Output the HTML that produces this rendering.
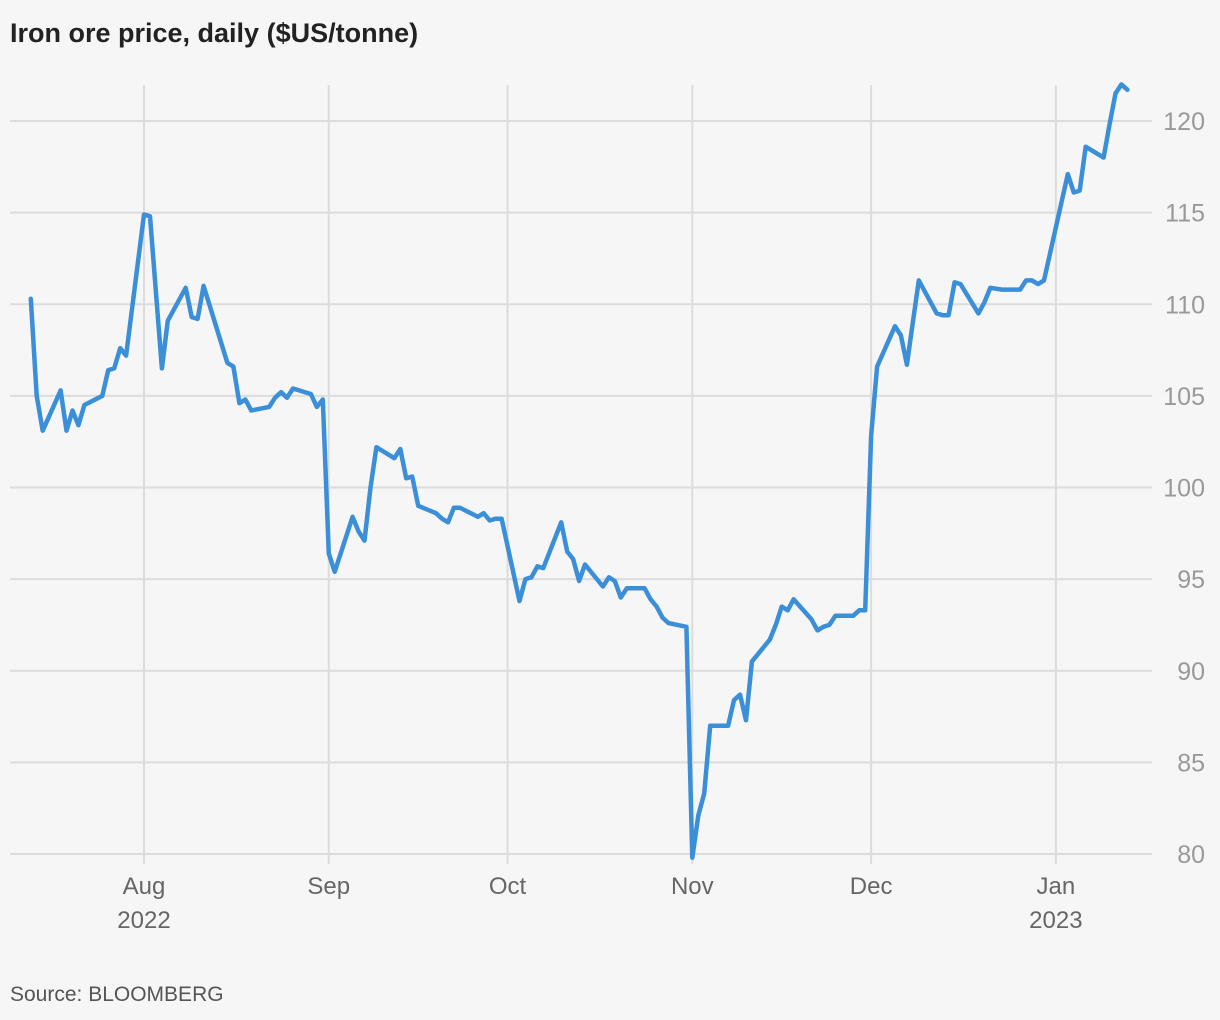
<!DOCTYPE html>
<html><head><meta charset="utf-8">
<style>
html,body{margin:0;padding:0;background:#f6f6f6;}
svg{display:block;font-family:"Liberation Sans",sans-serif;}
</style></head>
<body>
<svg width="1220" height="1020" viewBox="0 0 1220 1020">
<rect x="0" y="0" width="1220" height="1020" fill="#f6f6f6"/>
<text x="10" y="42" font-size="27" font-weight="bold" fill="#222">Iron ore price, daily ($US/tonne)</text>
<g id="grid"></g>
<g id="series"></g>
<text x="10" y="1001" font-size="21" fill="#555">Source: BLOOMBERG</text>
</svg>
<script>
// days since 1 Aug 2022
const days=[-19,-18,-17,-14,-13,-12,-11,-10,-7,-6,-5,-4,-3,0,1,3,4,7,8,9,10,14,15,16,17,18,21,22,23,24,25,28,29,30,31,32,35,36,37,38,39,42,43,44,45,46,49,50,51,52,53,56,57,58,59,60,63,64,65,66,67,70,71,72,73,74,77,78,79,80,81,84,85,86,87,88,91,92,93,94,95,98,99,100,101,102,105,106,107,108,109,112,113,114,115,116,119,120,121,122,123,126,127,128,129,130,133,134,135,136,137,140,141,142,144,147,148,149,150,151,155,156,157,158,161,162,163,164,165];
const prices=[110.3,105.0,103.1,105.3,103.1,104.2,103.4,104.5,105.0,106.4,106.5,107.6,107.2,114.9,114.8,106.5,109.1,110.9,109.3,109.2,111.0,106.8,106.6,104.6,104.8,104.2,104.4,104.9,105.2,104.9,105.4,105.1,104.4,104.8,96.4,95.4,98.4,97.6,97.1,100.0,102.2,101.6,102.1,100.5,100.6,99.0,98.6,98.3,98.1,98.9,98.9,98.4,98.6,98.2,98.3,98.3,93.8,95.0,95.1,95.7,95.6,98.1,96.5,96.1,94.9,95.8,94.6,95.1,94.9,94.0,94.5,94.5,93.9,93.5,92.9,92.6,92.4,79.8,82.1,83.3,87.0,87.0,88.4,88.7,87.3,90.5,91.7,92.5,93.5,93.3,93.9,92.8,92.2,92.4,92.5,93.0,93.0,93.3,93.3,102.8,106.6,108.8,108.3,106.7,109.0,111.3,109.5,109.4,109.4,111.2,111.1,109.5,110.1,110.9,110.8,110.8,111.3,111.3,111.1,111.3,117.1,116.1,116.2,118.6,118.0,119.8,121.5,122.0,121.7];
const yTicks=[80,85,90,95,100,105,110,115,120];
const monthDays=[0,31,61,92,122,153];
const monthLabels=["Aug","Sep","Oct","Nov","Dec","Jan"];
const yearLabels=["2022","","","","","2023"];

const NS="http://www.w3.org/2000/svg";
const xs=d=>144+d*5.96;
const ys=v=>854-(v-80)*18.325;
const grid=document.getElementById('grid');
const series=document.getElementById('series');
function mk(tag,attrs,parent){const e=document.createElementNS(NS,tag);for(const k in attrs)e.setAttribute(k,attrs[k]);parent.appendChild(e);return e;}
yTicks.forEach(v=>{
  const l=mk('line',{x1:10,x2:1152,y1:ys(v),y2:ys(v),stroke:'#dcdcdc','stroke-width':2},grid);
  
  
  const t=mk('text',{x:1205,y:ys(v)+9,'font-size':25,fill:'#999','text-anchor':'end'},grid);
  t.textContent=v;
  
  
});
monthDays.forEach((d,i)=>{
  const x=xs(d);
  const l=mk('line',{x1:x,x2:x,y1:85,y2:864,stroke:'#dcdcdc','stroke-width':2},grid);
  
  
  const t=mk('text',{x:x,y:894,'font-size':24,fill:'#666','text-anchor':'middle'},grid);
  t.textContent=monthLabels[i];
  
  
  if(yearLabels[i]){
    const y=mk('text',{x:x,y:928,'font-size':24,fill:'#666','text-anchor':'middle'},grid);
    y.textContent=yearLabels[i];
    
    
  }
});
const pts=days.map((d,i)=>xs(d).toFixed(1)+','+ys(prices[i]).toFixed(1)).join(' ');
const pl=mk('polyline',{points:pts,fill:'none',stroke:'#3b8fd9','stroke-width':4.5,'stroke-linejoin':'round','stroke-linecap':'round'},series);


</script>
</body></html>
